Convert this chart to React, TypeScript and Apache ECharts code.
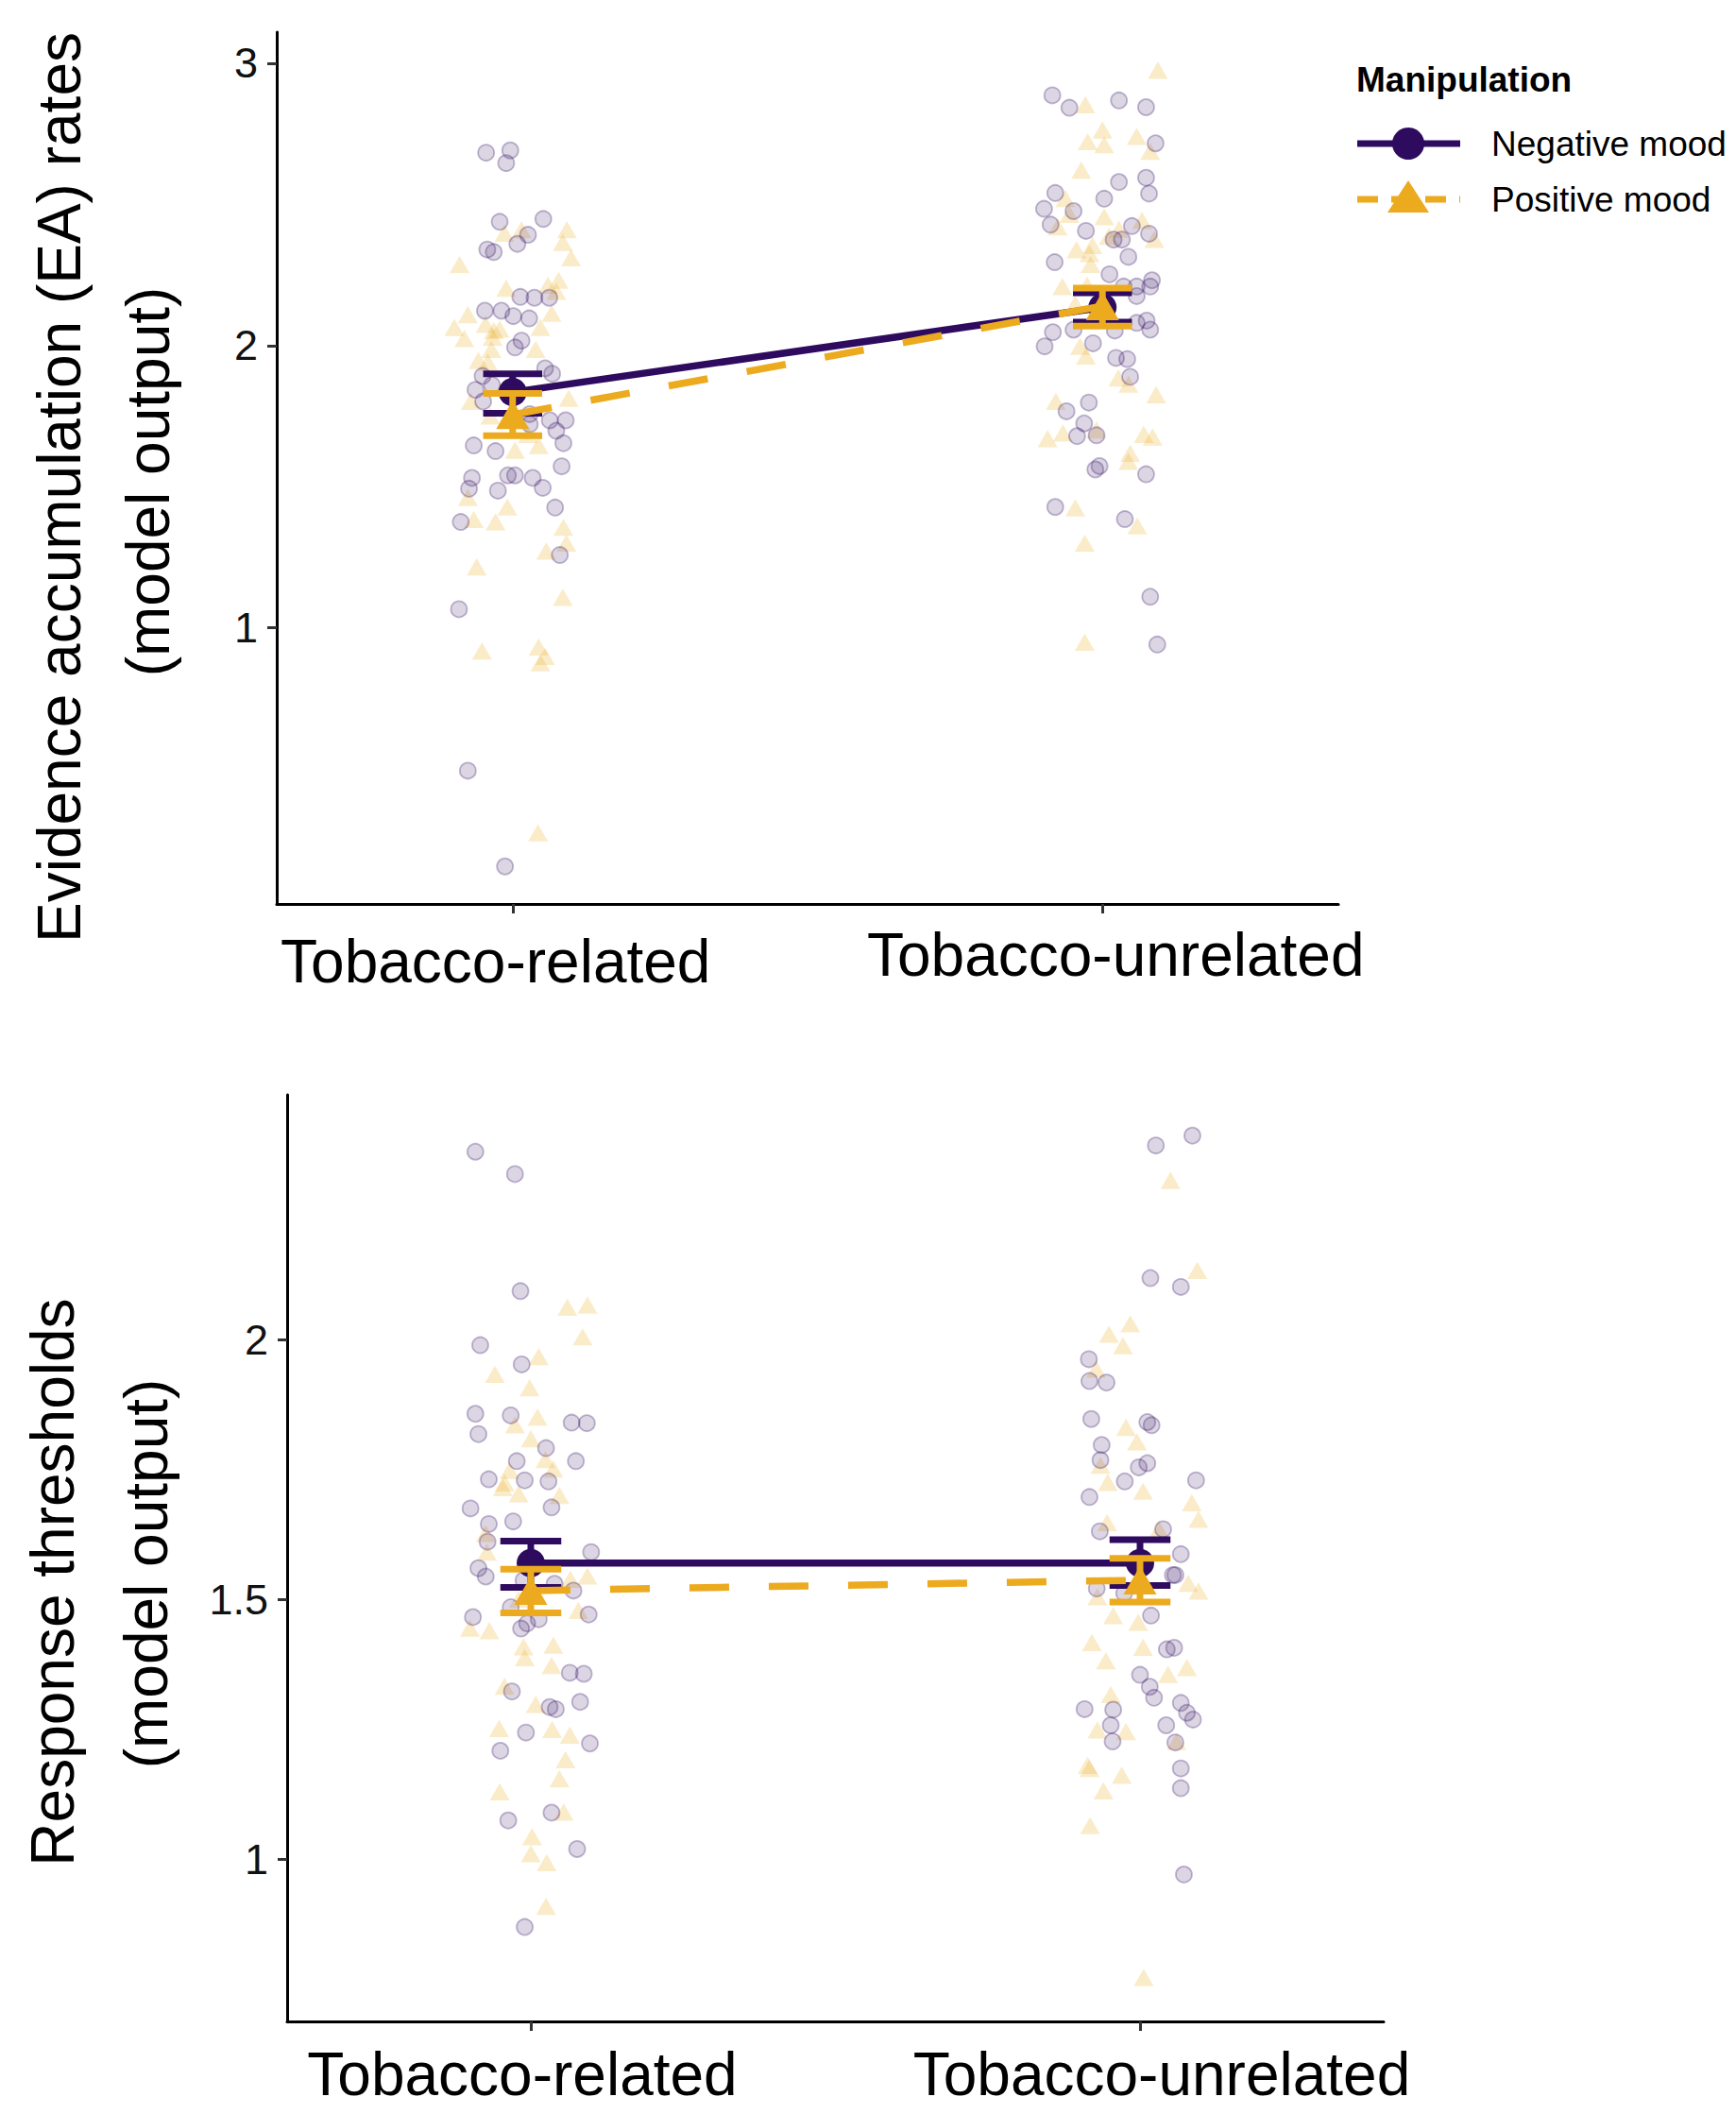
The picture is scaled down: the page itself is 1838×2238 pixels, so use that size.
import React, { useEffect, useRef } from "react";
import * as echarts from "echarts";

const FONT = "'Liberation Sans', Arial, Helvetica, sans-serif";
const PURPLE = "#2E0B5E";
const GOLD = "#ECAA1E";
const PURPLE_PT = "rgba(46,11,94,0.21)";
const PURPLE_PT_EDGE = "rgba(46,11,94,0.36)";
const GOLD_PT = "rgba(236,170,30,0.3)";
const TRI = "path://M0,-1 L0.866,0.5 L-0.866,0.5 Z";

const categories = ["Tobacco-related", "Tobacco-unrelated"];
const categoryPositions = [1, 2];
const eaTicks = [1, 2, 3];
const rtTicks = [1, 1.5, 2];
const legendTitle = "Manipulation";
const legendLabels = ["Negative mood", "Positive mood"];
const eaTitle = ["Evidence accumulation (EA) rates", "(model output)"];
const rtTitle = ["Response thresholds", "(model output)"];

// Individual participants: [horizontal jitter, value]
const eaNegRelated = [
  [-0.045, 2.683], [-0.004, 2.691], [-0.011, 2.646], [-0.022, 2.438], [0.052, 2.448], [0.026, 2.392],
  [0.008, 2.36], [-0.043, 2.34], [-0.032, 2.331], [0.013, 2.172], [0.037, 2.169], [0.062, 2.169],
  [-0.047, 2.123], [-0.019, 2.123], [0.001, 2.104], [0.028, 2.096], [0.015, 2.017], [0.004, 1.993],
  [0.055, 1.919], [0.067, 1.9], [-0.051, 1.892], [-0.035, 1.86], [-0.063, 1.843], [-0.05, 1.802],
  [0.029, 1.757], [0.029, 1.721], [0.063, 1.735], [0.09, 1.735], [0.074, 1.698], [0.086, 1.654],
  [-0.066, 1.646], [-0.029, 1.626], [0.083, 1.572], [-0.069, 1.531], [-0.074, 1.493], [-0.008, 1.54],
  [0.004, 1.54], [0.034, 1.531], [0.051, 1.496], [-0.025, 1.486], [0.072, 1.426], [-0.088, 1.375],
  [0.08, 1.258], [-0.091, 1.066], [-0.076, 0.494], [-0.013, 0.155],
];
const eaPosRelated = [
  [0.015, 2.41], [-0.014, 2.398], [0.092, 2.41], [0.085, 2.365], [0.099, 2.311], [-0.09, 2.287],
  [-0.011, 2.203], [0.078, 2.231], [0.06, 2.214], [0.074, 2.192], [-0.076, 2.109], [0.066, 2.114],
  [-0.099, 2.064], [0.047, 2.064], [-0.032, 2.053], [-0.046, 2.075], [-0.022, 2.058], [-0.082, 2.025],
  [-0.034, 2.03], [0.039, 1.986], [-0.036, 1.986], [-0.058, 1.947], [-0.042, 1.941], [-0.071, 1.802],
  [0.095, 1.813], [-0.038, 1.75], [0.026, 1.685], [0.004, 1.629], [0.044, 1.646], [-0.076, 1.462],
  [-0.009, 1.428], [-0.066, 1.384], [-0.029, 1.376], [0.086, 1.356], [0.091, 1.3], [0.057, 1.272],
  [-0.061, 1.216], [0.085, 1.108], [-0.052, 0.918], [0.044, 0.932], [0.055, 0.899], [0.047, 0.876],
  [0.043, 0.274],
];
const eaNegUnrelated = [
  [-0.085, 2.886], [-0.056, 2.842], [0.028, 2.868], [0.074, 2.844], [0.09, 2.716], [0.028, 2.579],
  [0.074, 2.594], [0.079, 2.538], [-0.08, 2.54], [0.003, 2.52], [-0.099, 2.484], [-0.049, 2.476],
  [-0.088, 2.428], [-0.028, 2.406], [0.05, 2.423], [0.079, 2.396], [0.019, 2.375], [0.033, 2.375],
  [0.044, 2.314], [-0.081, 2.295], [0.012, 2.252], [0.036, 2.209], [0.058, 2.209], [0.084, 2.231],
  [0.081, 2.209], [0.058, 2.175], [0.058, 2.08], [0.075, 2.088], [0.081, 2.056], [-0.084, 2.047],
  [-0.049, 2.056], [0.021, 2.053], [-0.016, 2.008], [-0.098, 1.997], [0.023, 1.956], [0.042, 1.952],
  [0.047, 1.889], [-0.023, 1.798], [-0.061, 1.767], [-0.031, 1.724], [-0.043, 1.679], [-0.01, 1.682],
  [-0.005, 1.573], [-0.012, 1.561], [0.074, 1.544], [-0.08, 1.428], [0.038, 1.385], [0.081, 1.11],
  [0.093, 0.941],
];
const eaPosUnrelated = [
  [0.094, 2.975], [-0.029, 2.853], [0.0, 2.763], [-0.025, 2.722], [0.003, 2.711], [0.058, 2.741],
  [0.081, 2.688], [-0.036, 2.621], [-0.063, 2.521], [-0.056, 2.465], [-0.076, 2.42], [0.003, 2.456],
  [0.067, 2.443], [0.028, 2.412], [0.088, 2.376], [0.011, 2.387], [-0.044, 2.339], [-0.017, 2.354],
  [-0.022, 2.326], [-0.02, 2.287], [-0.068, 2.209], [-0.026, 2.214], [-0.046, 2.147], [-0.038, 1.997],
  [-0.028, 1.963], [0.027, 1.885], [0.044, 1.863], [0.091, 1.826], [-0.079, 1.802], [-0.067, 1.69],
  [-0.093, 1.67], [-0.01, 1.701], [0.07, 1.685], [0.085, 1.676], [0.047, 1.618], [0.044, 1.59],
  [-0.046, 1.425], [0.059, 1.361], [-0.03, 1.3], [-0.03, 0.949],
];
const rtNegRelated = [
  [-0.091, 2.361], [-0.026, 2.318], [-0.017, 2.093], [-0.083, 1.989], [-0.015, 1.952], [-0.091, 1.857],
  [-0.033, 1.854], [0.067, 1.84], [0.092, 1.839], [-0.086, 1.818], [0.025, 1.791], [-0.023, 1.766],
  [0.074, 1.766], [-0.069, 1.731], [-0.01, 1.729], [0.029, 1.727], [-0.099, 1.675], [0.034, 1.677],
  [-0.069, 1.645], [-0.029, 1.65], [-0.071, 1.611], [0.099, 1.591], [-0.086, 1.56], [-0.074, 1.544],
  [-0.012, 1.537], [0.039, 1.53], [0.07, 1.517], [-0.033, 1.485], [0.095, 1.471], [-0.095, 1.466],
  [0.013, 1.462], [-0.006, 1.454], [-0.016, 1.444], [0.064, 1.359], [0.087, 1.357], [-0.031, 1.323],
  [0.031, 1.293], [0.041, 1.289], [0.081, 1.303], [-0.008, 1.244], [0.097, 1.223], [-0.05, 1.209],
  [0.034, 1.09], [-0.037, 1.075], [0.076, 1.02], [-0.01, 0.87],
];
const rtPosRelated = [
  [0.06, 2.062], [0.093, 2.066], [0.085, 2.005], [0.013, 1.967], [-0.059, 1.933], [-0.002, 1.907],
  [0.011, 1.851], [-0.026, 1.836], [0.0, 1.809], [0.024, 1.769], [0.037, 1.751], [-0.035, 1.748],
  [-0.043, 1.724], [-0.046, 1.715], [-0.02, 1.703], [0.047, 1.7], [-0.074, 1.627], [-0.072, 1.591],
  [0.065, 1.539], [0.093, 1.545], [-0.005, 1.512], [-0.02, 1.5], [0.078, 1.479], [-0.1, 1.445],
  [-0.068, 1.44], [-0.012, 1.409], [0.037, 1.412], [-0.01, 1.388], [0.034, 1.373], [-0.043, 1.333],
  [0.008, 1.298], [-0.052, 1.252], [0.035, 1.25], [0.064, 1.239], [0.057, 1.192], [0.047, 1.155],
  [-0.051, 1.13], [0.054, 1.091], [0.002, 1.044], [0.0, 1.011], [0.026, 0.994], [0.025, 0.91],
];
const rtNegUnrelated = [
  [0.086, 2.392], [0.026, 2.373], [0.017, 2.118], [0.067, 2.101], [-0.084, 1.962], [-0.083, 1.92],
  [-0.055, 1.917], [-0.08, 1.847], [0.012, 1.841], [0.019, 1.835], [-0.063, 1.797], [-0.065, 1.768],
  [0.012, 1.762], [-0.002, 1.754], [-0.025, 1.727], [0.092, 1.729], [-0.083, 1.697], [-0.066, 1.631],
  [0.038, 1.635], [0.067, 1.587], [0.058, 1.547], [0.054, 1.547], [-0.071, 1.521], [-0.026, 1.512],
  [0.018, 1.469], [0.044, 1.404], [0.056, 1.407], [0.0, 1.355], [0.016, 1.332], [0.023, 1.311],
  [0.067, 1.301], [0.077, 1.282], [0.087, 1.269], [-0.091, 1.289], [-0.044, 1.288], [-0.048, 1.258],
  [0.043, 1.258], [-0.045, 1.227], [0.058, 1.225], [0.067, 1.175], [0.067, 1.137], [0.072, 0.971],
];
const rtPosUnrelated = [
  [0.05, 2.306], [0.094, 2.133], [-0.016, 2.03], [-0.051, 2.01], [-0.028, 1.988], [-0.072, 1.943],
  [-0.023, 1.831], [-0.005, 1.803], [-0.065, 1.758], [-0.053, 1.725], [0.005, 1.708], [0.085, 1.686],
  [0.096, 1.654], [-0.054, 1.648], [0.031, 1.635], [0.079, 1.531], [0.096, 1.516], [-0.07, 1.505],
  [-0.044, 1.469], [-0.003, 1.456], [-0.079, 1.417], [0.005, 1.408], [-0.056, 1.382], [0.046, 1.356],
  [0.077, 1.369], [-0.048, 1.317], [-0.07, 1.249], [-0.023, 1.246], [0.06, 1.227], [-0.086, 1.181],
  [-0.083, 1.175], [-0.03, 1.162], [-0.06, 1.132], [-0.082, 1.065], [0.006, 0.773],
];

// Group means with error bars (per category)
const eaNegMean = [1.835, 2.135];
const eaNegLow = [1.76, 2.083];
const eaNegHigh = [1.9, 2.187];
const eaPosMean = [1.755, 2.14];
const eaPosLow = [1.681, 2.069];
const eaPosHigh = [1.83, 2.203];
const rtNegMean = [1.57, 1.57];
const rtNegLow = [1.523, 1.527];
const rtNegHigh = [1.612, 1.615];
const rtPosMean = [1.517, 1.537];
const rtPosLow = [1.474, 1.495];
const rtPosHigh = [1.558, 1.579];

const ERR_WIDTH = 0.1;

function placeJitter(pairs: number[][], pos: number) {
  return pairs.map(([j, v]) => [pos + j, v]);
}
function meanLine(means: number[]) {
  return categoryPositions.map((p, i) => [p, means[i]]);
}
function errData(lo: number[], hi: number[]) {
  return categoryPositions.map((p, i) => [p, lo[i], hi[i]]);
}

function errorBarSeries(axis: number, lo: number[], hi: number[], color: string, z: number) {
  return {
    type: "custom",
    xAxisIndex: axis,
    yAxisIndex: axis,
    silent: true,
    z,
    data: errData(lo, hi),
    renderItem: (params: any, api: any) => {
      const x = api.value(0);
      const pLo = api.coord([x, api.value(1)]);
      const pHi = api.coord([x, api.value(2)]);
      const half = api.size([ERR_WIDTH / 2, 0])[0];
      const style = { stroke: color, lineWidth: 7, fill: null };
      return {
        type: "group",
        children: [
          { type: "line", shape: { x1: pHi[0], y1: pHi[1], x2: pLo[0], y2: pLo[1] }, style },
          { type: "line", shape: { x1: pHi[0] - half, y1: pHi[1], x2: pHi[0] + half, y2: pHi[1] }, style },
          { type: "line", shape: { x1: pLo[0] - half, y1: pLo[1], x2: pLo[0] + half, y2: pLo[1] }, style },
        ],
      };
    },
  };
}

function scatterSeries(axis: number, data: number[][], isNeg: boolean, z: number) {
  return {
    type: "scatter",
    xAxisIndex: axis,
    yAxisIndex: axis,
    silent: true,
    z,
    data,
    symbol: isNeg ? "circle" : TRI,
    symbolKeepAspect: true,
    symbolSize: isNeg ? 17 : 21,
    itemStyle: isNeg
      ? { color: PURPLE_PT, borderColor: PURPLE_PT_EDGE, borderWidth: 1.8 }
      : { color: GOLD_PT, borderWidth: 0 },
  };
}

function lineSeries(axis: number, means: number[], isNeg: boolean, z: number) {
  return {
    type: "line",
    xAxisIndex: axis,
    yAxisIndex: axis,
    silent: true,
    z,
    data: meanLine(means),
    symbol: isNeg ? "circle" : TRI,
    symbolKeepAspect: true,
    symbolSize: isNeg ? 30 : 35,
    showSymbol: true,
    itemStyle: { color: isNeg ? PURPLE : GOLD },
    lineStyle: isNeg
      ? { color: PURPLE, width: 7.5 }
      : { color: GOLD, width: 7.5, type: [42, 42] },
  };
}

function xAxis(gridIndex: number, margin: number, rich: any) {
  return {
    type: "value",
    gridIndex,
    min: 0.6,
    max: 2.4,
    axisLine: { show: true, onZero: false, lineStyle: { color: "#000", width: 3 } },
    axisTick: { show: true, customValues: categoryPositions, length: 10, lineStyle: { color: "#333", width: 3 } },
    axisLabel: {
      customValues: categoryPositions,
      margin,
      fontSize: 64,
      color: "#000",
      fontFamily: FONT,
      formatter: (v: number) => (v === 1 ? `{a|${categories[0]}}` : v === 2 ? `{b|${categories[1]}}` : ""),
      rich,
    },
    splitLine: { show: false },
  };
}

function yAxis(gridIndex: number, min: number, max: number, ticks: number[]) {
  return {
    type: "value",
    gridIndex,
    min,
    max,
    axisLine: { show: true, onZero: false, lineStyle: { color: "#000", width: 3 } },
    axisTick: { show: true, customValues: ticks, length: 10, lineStyle: { color: "#333", width: 3 } },
    axisLabel: { customValues: ticks, margin: 20, fontSize: 45, color: "#111", fontFamily: FONT },
    splitLine: { show: false },
  };
}

const labelBase = { fontSize: 64, fontFamily: FONT, color: "#000" };

function titleText(text: string, x: number, y: number) {
  return {
    type: "text",
    x,
    y,
    rotation: Math.PI / 2,
    silent: true,
    style: { text, fontSize: 64, fontFamily: FONT, fill: "#000", align: "center", verticalAlign: "middle" },
  };
}

function legendText(text: string, x: number, y: number, bold = false) {
  return {
    type: "text",
    x,
    y,
    silent: true,
    style: {
      text,
      fontSize: 37,
      fontWeight: bold ? "bold" : "normal",
      fontFamily: FONT,
      fill: "#000",
      align: "left",
      verticalAlign: "middle",
    },
  };
}

const option: any = {
  animation: false,
  backgroundColor: "#fff",
  textStyle: { fontFamily: FONT },
  grid: [
    { left: 293, top: 34, width: 1124, height: 923 },
    { left: 304, top: 1159, width: 1161, height: 981 },
  ],
  xAxis: [
    xAxis(0, 22, {
      a: { ...labelBase, padding: [7, 36, 0, 0] },
      b: { ...labelBase, padding: [0, 0, 0, 28] },
    }),
    xAxis(1, 24, {
      a: { ...labelBase, padding: [0, 18, 0, 0] },
      b: { ...labelBase, padding: [0, 0, 0, 46] },
    }),
  ],
  yAxis: [yAxis(0, 0.022, 3.11, eaTicks), yAxis(1, 0.6885, 2.4705, rtTicks)],
  series: [
    scatterSeries(0, placeJitter(eaPosRelated, 1).concat(placeJitter(eaPosUnrelated, 2)), false, 1),
    scatterSeries(0, placeJitter(eaNegRelated, 1).concat(placeJitter(eaNegUnrelated, 2)), true, 2),
    lineSeries(0, eaNegMean, true, 3),
    errorBarSeries(0, eaNegLow, eaNegHigh, PURPLE, 4),
    lineSeries(0, eaPosMean, false, 5),
    errorBarSeries(0, eaPosLow, eaPosHigh, GOLD, 6),
    scatterSeries(1, placeJitter(rtPosRelated, 1).concat(placeJitter(rtPosUnrelated, 2)), false, 1),
    scatterSeries(1, placeJitter(rtNegRelated, 1).concat(placeJitter(rtNegUnrelated, 2)), true, 2),
    lineSeries(1, rtNegMean, true, 3),
    errorBarSeries(1, rtNegLow, rtNegHigh, PURPLE, 4),
    lineSeries(1, rtPosMean, false, 5),
    errorBarSeries(1, rtPosLow, rtPosHigh, GOLD, 6),
  ],
  graphic: [
    titleText(eaTitle[0], 63, 516),
    titleText(eaTitle[1], 157, 510),
    titleText(rtTitle[0], 56, 1675),
    titleText(rtTitle[1], 155, 1666),
    legendText(legendTitle, 1436, 84, true),
    {
      type: "line",
      silent: true,
      shape: { x1: 1437, y1: 152, x2: 1546, y2: 152 },
      style: { stroke: PURPLE, lineWidth: 7 },
    },
    { type: "circle", silent: true, shape: { cx: 1491, cy: 152, r: 17 }, style: { fill: PURPLE } },
    legendText(legendLabels[0], 1579, 152),
    {
      type: "line",
      silent: true,
      shape: { x1: 1437, y1: 211, x2: 1546, y2: 211 },
      style: { stroke: GOLD, lineWidth: 7, lineDash: [22, 14] },
    },
    {
      type: "polygon",
      silent: true,
      shape: { points: [[1491, 191], [1513, 225], [1469, 225]] },
      style: { fill: GOLD },
    },
    legendText(legendLabels[1], 1579, 211),
  ],
};

export default function App() {
  const ref = useRef<HTMLDivElement>(null);
  useEffect(() => {
    if (!ref.current) return;
    const chart = echarts.init(ref.current, null, { renderer: "svg" });
    chart.setOption(option);
    return () => chart.dispose();
  }, []);
  return (
    <div
      ref={ref}
      style={{ position: "absolute", left: 0, top: 0, width: 1838, height: 2238, background: "#fff" }}
    />
  );
}
